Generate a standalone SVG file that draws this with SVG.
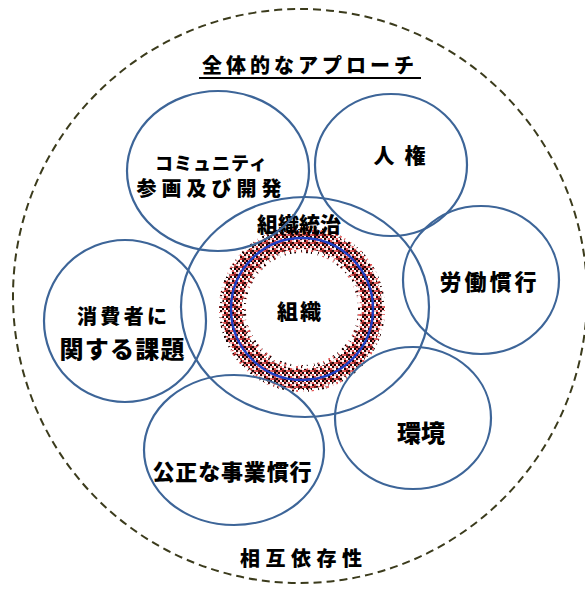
<svg xmlns="http://www.w3.org/2000/svg" width="585" height="597" viewBox="0 0 585 597">
<style>
.c{fill:none;stroke:#3d6598;stroke-width:2.2}
.t{font-family:"Noto Sans CJK JP","Noto Sans",sans-serif;font-weight:900;fill:#000;text-anchor:middle;dominant-baseline:central}
</style>
<defs>
<pattern id="noise" width="8" height="8" patternUnits="userSpaceOnUse">
<rect width="8" height="8" fill="#f6c4c4"/>
<rect x="0" y="0" width="2" height="2" fill="#1a0505"/>
<rect x="2" y="0" width="2" height="2" fill="#e05050"/>
<rect x="6" y="0" width="2" height="2" fill="#fff"/>
<rect x="4" y="2" width="2" height="2" fill="#200808"/>
<rect x="0" y="2" width="2" height="2" fill="#d84848"/>
<rect x="6" y="2" width="2" height="2" fill="#e87070"/>
<rect x="2" y="4" width="2" height="2" fill="#120303"/>
<rect x="4" y="4" width="2" height="2" fill="#e86868"/>
<rect x="0" y="4" width="2" height="2" fill="#fff"/>
<rect x="6" y="4" width="2" height="2" fill="#1a0505"/>
<rect x="2" y="2" width="2" height="2" fill="#7a1a1a"/>
<rect x="0" y="6" width="2" height="2" fill="#e05858"/>
<rect x="4" y="6" width="2" height="2" fill="#2a0a0a"/>
<rect x="2" y="6" width="2" height="2" fill="#fff"/>
</pattern>
</defs>
<rect width="585" height="597" fill="#fff"/>
<circle id="outer" cx="300" cy="296" r="287" fill="none" stroke="#3b3b1c" stroke-width="2" stroke-dasharray="8 5"/>
<g id="title">
<text class="t" x="310" y="64" font-size="20" letter-spacing="4">全体的なアプローチ</text>
<line x1="199" y1="78" x2="421" y2="78" stroke="#000" stroke-width="2"/>
</g>
<g id="core">
<circle cx="302" cy="309" r="70" fill="none" stroke="url(#noise)" stroke-width="20"/>
<circle cx="302" cy="309" r="81" fill="none" stroke="url(#noise)" stroke-width="4" stroke-dasharray="2 3 1 4 3 2"/>
<circle cx="302" cy="309" r="58" fill="none" stroke="url(#noise)" stroke-width="4" stroke-dasharray="1 4 2 3 2 5"/>
<circle cx="302" cy="309" r="71" fill="none" stroke="#1f3fc4" stroke-width="2.4"/>
<text class="t" x="300" y="310" font-size="21" letter-spacing="2">組織</text>
</g>
<g id="governance">
<ellipse class="c" cx="305" cy="307" rx="124" ry="110"/>
<text class="t" x="299" y="223" font-size="21">組織統治</text>
</g>
<g id="community">
<ellipse class="c" cx="218" cy="171" rx="91" ry="80"/>
<text class="t" x="211" y="162" font-size="18" textLength="112" lengthAdjust="spacing">コミュニティ</text>
<text class="t" x="209" y="187" font-size="20" textLength="145" lengthAdjust="spacing">参画及び開発</text>
</g>
<g id="human-rights">
<ellipse class="c" cx="391" cy="165" rx="76" ry="71"/>
<text class="t" x="384" y="154" font-size="21">人</text>
<text class="t" x="415" y="154" font-size="21">権</text>
</g>
<g id="labour">
<ellipse class="c" cx="481" cy="280" rx="78" ry="74"/>
<text class="t" x="488" y="280" font-size="22" textLength="97" lengthAdjust="spacing">労働慣行</text>
</g>
<g id="consumer">
<ellipse class="c" cx="125" cy="321" rx="81" ry="81"/>
<text class="t" x="122" y="315" font-size="20" textLength="90" lengthAdjust="spacing">消費者に</text>
<text class="t" x="122" y="347" font-size="24" textLength="125" lengthAdjust="spacing">関する課題</text>
</g>
<g id="environment">
<ellipse class="c" cx="413" cy="418" rx="78" ry="71"/>
<text class="t" x="421" y="431" font-size="24">環境</text>
</g>
<g id="fair">
<ellipse class="c" cx="234" cy="450" rx="90" ry="75"/>
<text class="t" x="232" y="470" font-size="22" textLength="159" lengthAdjust="spacing">公正な事業慣行</text>
</g>
<g id="interdependence">
<text class="t" x="301" y="557" font-size="20" textLength="122" lengthAdjust="spacing">相互依存性</text>
</g>
</svg>
